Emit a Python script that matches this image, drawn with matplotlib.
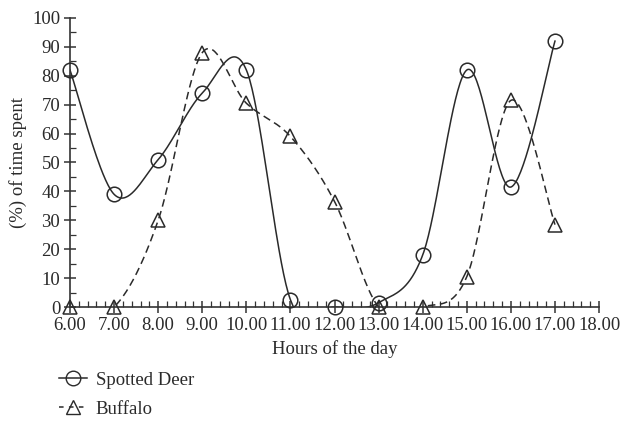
import numpy as np
import matplotlib
matplotlib.use("Agg")
import matplotlib.pyplot as plt
from matplotlib.lines import Line2D
from matplotlib.ticker import MultipleLocator, FixedLocator

hours = [6, 7, 8, 9, 10, 11, 12, 13, 14, 15, 16, 17]
deer = [82, 39, 51, 74, 82, 2.5, 0, 1.5, 18, 82, 41.5, 92]
buffalo = [0, 0, 30, 88, 70.5, 59, 36.5, 0, 0, 10.5, 71.5, 28.5]
xtick_labels = ["6.00", "7.00", "8.00", "9.00", "10.00", "11.00", "12.00",
                "13.00", "14.00", "15.00", "16.00", "17.00", "18.00"]
xticks = [6, 7, 8, 9, 10, 11, 12, 13, 14, 15, 16, 17, 18]

plt.rcParams['font.family'] = ['Liberation Serif', 'DejaVu Serif']
FS = 13.5
INK = '#2a2a2a'


def smooth(xs, ys, n=40):
    P = np.column_stack([xs, ys]).astype(float)
    pts = []
    m = len(P)
    for i in range(m - 1):
        p0 = P[i - 1] if i > 0 else P[i]
        p1 = P[i]
        p2 = P[i + 1]
        p3 = P[i + 2] if i + 2 < m else P[i + 1]
        b1 = p1 + (p2 - p0) / 6.0
        b2 = p2 - (p3 - p1) / 6.0
        t = np.linspace(0, 1, n)[:, None]
        seg = ((1 - t) ** 3) * p1 + 3 * ((1 - t) ** 2) * t * b1 + 3 * (1 - t) * t ** 2 * b2 + t ** 3 * p2
        pts.append(seg if i == 0 else seg[1:])
    a = np.vstack(pts)
    return a[:, 0], a[:, 1]


fig = plt.figure(figsize=(6.21, 4.34), dpi=100)
ax = fig.add_axes([0.1127, 0.2926, 0.852, 0.666])

dx, dy = smooth(hours, deer)
bx, by = smooth(hours, buffalo)
ax.plot(dx, dy, color=INK, lw=1.1, clip_on=True)
ax.plot(bx, by, color=INK, lw=1.1, ls=(0, (5, 3)), clip_on=True)
ax.plot(hours, deer, ls='none', marker='o', ms=10.5, mfc='none', mec=INK,
        mew=1.1, clip_on=False, zorder=5)
ax.plot(hours, buffalo, ls='none', marker='^', ms=10.5, mfc='none', mec=INK,
        mew=1.1, clip_on=False, zorder=5)

ax.set_xlim(6, 18)
ax.set_ylim(0, 100)
for s in ['top', 'right']:
    ax.spines[s].set_visible(False)
for s in ['left', 'bottom']:
    ax.spines[s].set_color('#333333')
    ax.spines[s].set_linewidth(1.2)

ax.xaxis.set_major_locator(FixedLocator(xticks))
ax.set_xticklabels(xtick_labels)
ax.xaxis.set_minor_locator(MultipleLocator(0.2))
ax.yaxis.set_major_locator(MultipleLocator(10))
ax.yaxis.set_minor_locator(MultipleLocator(5))
ax.tick_params(axis='x', which='major', direction='inout', length=9, width=1.1,
               color='#333333', labelsize=FS, pad=3, labelcolor=INK)
ax.tick_params(axis='x', which='minor', direction='in', length=4, width=0.9, color='#333333')
ax.tick_params(axis='y', which='major', direction='inout', length=8, width=1.1,
               color='#333333', labelsize=FS, pad=3, labelcolor=INK)
ax.tick_params(axis='y', which='minor', direction='in', length=4, width=0.9, color='#333333')

ax.set_xlabel("Hours of the day", fontsize=FS, labelpad=4, color=INK)
ax.set_ylabel("(%) of time spent", fontsize=FS, labelpad=4, color=INK)

handles = [
    Line2D([], [], color=INK, lw=1.1, marker='o', ms=10.5, mfc='none', mec=INK),
    Line2D([], [], color=INK, lw=1.1, ls=(0, (3, 3.5)), marker='^', ms=10.5, mfc='none', mec=INK),
]
fig.legend(handles, ["Spotted Deer", "Buffalo"], loc='upper left',
           bbox_to_anchor=(0.068, 0.183), frameon=False, fontsize=FS,
           handlelength=1.5, handletextpad=0.45, labelspacing=0.65,
           labelcolor=INK)

fig.savefig("out.png", dpi=100)
